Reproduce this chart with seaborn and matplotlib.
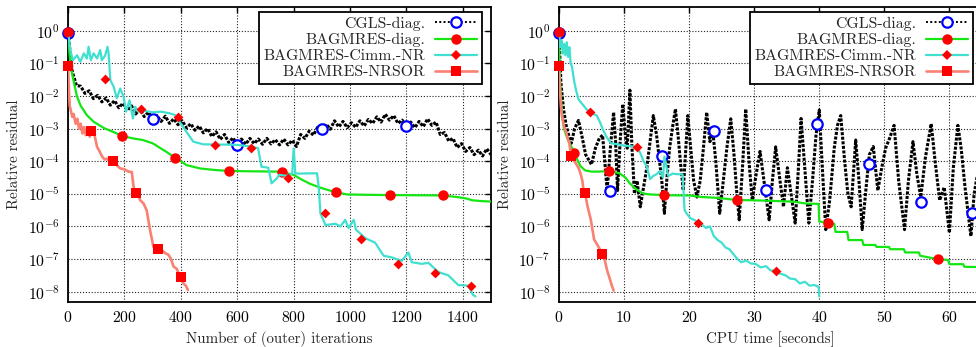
import numpy as np
import matplotlib
matplotlib.use("Agg")
import matplotlib.pyplot as plt
from matplotlib.lines import Line2D
from matplotlib.ticker import NullLocator, FixedLocator
import seaborn as sns

# ---------------- data: residual histories (log10 of relative residual) ----------------
# Left panel: residual vs. number of outer iterations
cgls_it_x = [0, 15, 30, 45, 60, 75, 90, 105, 120, 135, 150, 165, 180, 195, 210, 225, 240, 255, 270, 285,
             300, 315, 330, 345, 360, 375, 390, 405, 420, 435, 450, 465, 480, 495, 510, 525, 540, 555, 570, 585,
             600, 615, 630, 645, 660, 675, 690, 705, 720, 735, 750, 765, 780, 795, 810, 825, 840, 855, 870, 885,
             900, 915, 930, 945, 960, 975, 990, 1005, 1020, 1035, 1050, 1065, 1080, 1095, 1110, 1125, 1140, 1155,
             1170, 1185, 1200, 1215, 1230, 1245, 1260, 1275, 1290, 1305, 1320, 1335, 1350, 1365, 1380, 1395,
             1410, 1425, 1440, 1455, 1470, 1485, 1500]
cgls_it_log = [-0.06, -1.25, -1.68, -1.70, -1.92, -1.84, -2.08, -1.98, -2.18, -2.06, -2.28, -2.14, -2.36, -2.22,
               -2.44, -2.30, -2.55, -2.40, -2.63, -2.50, -2.70, -2.60, -2.78, -2.62, -2.84, -2.70, -2.88, -2.76,
               -2.98, -2.85, -3.05, -2.92, -3.13, -3.00, -3.24, -3.10, -3.33, -3.18, -3.43, -3.28, -3.50, -3.32,
               -3.48, -3.30, -3.46, -3.32, -3.48, -3.30, -3.47, -3.34, -3.50, -3.32, -3.50, -3.36, -3.55, -3.18,
               -3.30, -3.08, -3.20, -2.96, -3.08, -2.86, -3.02, -2.76, -2.95, -2.78, -2.97, -2.82, -2.96, -2.76,
               -2.92, -2.72, -2.84, -2.64, -2.80, -2.56, -2.74, -2.60, -2.84, -2.74, -2.96, -2.80, -2.97, -2.78,
               -2.94, -2.70, -2.90, -2.80, -3.18, -3.12, -3.38, -3.30, -3.58, -3.46, -3.70, -3.58, -3.80, -3.66,
               -3.84, -3.62, -3.80]
cgls_it_mx = [0, 300, 600, 900, 1200]
cgls_it_mlog = [-0.06, -2.69, -3.50, -3.02, -2.93]

diag_it_x = [0, 5, 12, 20, 32, 45, 67, 91, 129, 160, 191, 230, 265, 300, 324, 350, 379, 400, 420, 467,
             520, 571, 650, 750, 800, 832, 860, 891, 920, 950, 989, 1050, 1138, 1230, 1326, 1380, 1410, 1434,
             1460, 1500]
diag_it_log = [-0.04, -0.7, -1.2, -1.55, -2.02, -2.3, -2.59, -2.79, -2.99, -3.1, -3.22, -3.3, -3.35, -3.45,
               -3.58, -3.72, -3.89, -4.0, -4.12, -4.22, -4.27, -4.30, -4.31, -4.32, -4.42, -4.58, -4.7, -4.8,
               -4.88, -4.95, -5.02, -5.03, -5.04, -5.045, -5.05, -5.1, -5.14, -5.2, -5.22, -5.24]
diag_it_mx = [0, 190, 380, 570, 760, 950, 1140, 1330]
diag_it_mlog = [-0.04, -3.22, -3.89, -4.30, -4.34, -4.95, -5.04, -5.05]

cimm_it_x = [0, 8, 17, 32, 44, 56, 67, 73, 81, 91, 103, 114, 120, 132, 140, 144, 150, 162, 173, 185, 197,
             206, 218, 230, 238, 250, 270, 300, 330, 360, 379, 400, 420, 444, 479, 520, 560, 600, 650, 674,
             686, 710, 722, 740, 749, 778, 795, 800, 806, 815, 883, 889, 895, 913, 948, 966, 983, 995, 1013,
             1021, 1054, 1089, 1119, 1148, 1183, 1207, 1219, 1254, 1278, 1313, 1348, 1384, 1419, 1436, 1445]
cimm_it_log = [-0.03, -0.59, -0.9, -0.75, -0.95, -0.69, -0.85, -0.49, -0.9, -0.69, -0.85, -0.59, -0.9, -0.75,
               -0.49, -0.7, -1.51, -1.72, -2.07, -1.77, -2.02, -2.48, -2.13, -2.69, -2.33, -2.48, -2.45, -2.5,
               -2.48, -2.53, -2.58, -2.85, -3.1, -3.4, -3.48, -3.49, -3.49, -3.5, -3.55, -3.6, -4.17, -4.2,
               -4.68, -4.53, -4.42, -4.45, -4.38, -3.61, -4.37, -4.38, -4.37, -4.79, -5.6, -5.96, -5.92, -6.0,
               -5.8, -6.05, -5.8, -6.1, -6.36, -6.5, -6.9, -6.95, -7.06, -6.8, -7.1, -7.15, -7.12, -7.4, -7.5,
               -7.8, -7.82, -8.1, -8.15]
cimm_it_mx = [0, 130, 260, 390, 520, 650, 780, 910, 1040, 1170, 1300, 1430]
cimm_it_mlog = [-0.03, -1.48, -2.40, -2.64, -3.50, -3.58, -4.53, -5.60, -6.40, -7.16, -7.44, -7.82]

sor_it_x = [0, 3, 6, 10, 15, 20, 27, 33, 39, 45, 51, 57, 63, 70, 77, 85, 94, 103, 112, 121, 130, 138, 150,
            161, 173, 185, 200, 215, 226, 232, 238, 247, 256, 268, 279, 291, 303, 315, 324, 332, 344, 356, 365,
            374, 385, 397, 409, 418, 425]
sor_it_log = [-1.07, -1.8, -2.3, -2.45, -2.64, -2.55, -2.85, -2.7, -3.0, -2.85, -3.15, -2.95, -3.2, -3.0,
              -3.25, -3.07, -3.2, -3.56, -3.7, -3.86, -3.95, -3.92, -4.02, -4.0, -4.12, -4.22, -4.25, -4.32,
              -4.33, -4.75, -4.96, -5.0, -5.2, -5.3, -5.51, -6.12, -6.63, -6.68, -6.75, -6.72, -6.82, -6.87,
              -7.0, -7.23, -7.3, -7.52, -7.75, -7.82, -7.95]
sor_it_mx = [0, 80, 160, 240, 320, 400]
sor_it_mlog = [-1.07, -3.07, -4.0, -4.97, -6.68, -7.55]

# Right panel: residual vs. CPU time in seconds
cgls_t_x = [0, 0.3, 0.7, 1.1, 1.5, 1.9, 2.4, 3.0, 3.5, 4.1, 5.0, 5.6, 6.2, 6.7, 7.0, 7.4, 7.9, 8.4, 8.7, 9.0,
            9.4, 9.8, 10.2, 10.5, 10.9, 11.2, 11.6, 12.0, 12.5, 13.0, 13.5, 14.0, 14.5, 15.0, 15.4, 15.8, 16.2,
            16.6, 17.0, 17.5, 17.9, 18.3, 18.7, 19.1, 19.5, 19.8, 20.2, 20.7, 21.2, 21.7, 22.2, 22.7, 23.2,
            23.6, 24.1, 24.7, 25.2, 25.8, 26.4, 26.9, 27.3, 27.7, 28.2, 28.7, 29.2, 29.7, 30.3, 30.9, 31.5,
            32.3, 32.8, 33.3, 33.9, 34.5, 35.1, 35.6, 36.3, 36.8, 37.2, 37.7, 38.4, 39.0, 39.5, 40.0, 40.5,
            41.0, 41.6, 42.3, 42.8, 43.3, 43.9, 44.4, 44.9, 45.6, 46.1, 46.6, 47.2, 47.7, 48.3, 49.0, 49.6,
            50.2, 50.8, 51.5, 52.2, 53.1, 53.7, 54.4, 55.0, 55.6, 56.3, 57.2, 57.8, 58.5, 59.2, 60.0, 60.6,
            61.3, 61.8, 62.4, 63.3, 63.8, 64.4, 65.0]
cgls_t_log = [-0.06, -1.6, -2.4, -2.9, -3.2, -3.45, -3.0, -2.75, -3.2, -3.8, -4.1, -3.6, -3.3, -3.2, -3.9,
              -4.9, -3.6, -2.5, -3.4, -4.9, -3.4, -2.25, -3.2, -3.6, -1.82, -3.5, -5.0, -4.6, -5.4, -4.8,
              -4.2, -3.4, -2.6, -3.2, -3.9, -4.6, -5.6, -4.5, -3.6, -2.9, -2.4, -3.2, -4.1, -4.9, -3.6, -2.6,
              -3.5, -4.6, -5.1, -4.6, -3.6, -2.5, -3.4, -3.0, -4.0, -5.6, -4.7, -3.6, -2.7, -3.8, -4.9, -5.8,
              -4.2, -2.4, -4.0, -5.2, -4.4, -3.7, -4.6, -5.8, -4.6, -3.56, -4.5, -5.4, -4.2, -4.9, -5.9, -4.2,
              -2.69, -4.0, -5.9, -4.5, -3.2, -2.43, -4.3, -6.1, -5.2, -3.6, -2.9, -2.6, -4.0, -5.0, -5.4,
              -3.35, -4.6, -6.1, -4.8, -3.8, -3.55, -4.9, -4.2, -3.6, -3.3, -2.9, -4.6, -6.1, -4.6, -3.4,
              -4.4, -5.1, -3.9, -2.85, -4.0, -5.2, -4.8, -6.2, -4.2, -2.9, -3.6, -4.8, -6.3, -5.0, -4.3, -4.9]
cgls_t_mx = [0, 7.85, 15.9, 23.85, 31.85, 39.7, 47.7, 55.6, 63.5]
cgls_t_mlog = [-0.06, -4.92, -3.83, -3.07, -4.87, -2.85, -4.09, -5.25, -5.58]

diag_t_x = [0, 0.15, 0.35, 0.55, 0.77, 1.1, 1.5, 1.9, 2.36, 2.8, 3.3, 4.0, 5.0, 6.0, 7.75, 9.3, 10.2, 10.9,
            11.8, 12.9, 14.0, 16.1, 18.0, 20.0, 22.0, 24.0, 25.5, 27.3, 30.0, 33.0, 36.0, 38.0, 39.9, 40.0,
            41.3, 42.3, 42.5, 44.3, 44.5, 46.6, 46.8, 48.6, 48.8, 50.7, 50.9, 53.0, 53.2, 55.3, 55.5, 58.3,
            59.8, 60.0, 62.1, 62.3, 65.0]
diag_t_log = [-0.04, -1.5, -2.2, -2.7, -3.0, -3.2, -3.4, -3.55, -3.75, -3.95, -4.15, -4.28, -4.32, -4.32,
              -4.3, -4.37, -4.5, -4.68, -4.85, -4.99, -5.02, -5.04, -5.05, -5.05, -5.1, -5.12, -5.15, -5.19,
              -5.2, -5.22, -5.24, -5.3, -5.31, -5.85, -5.9, -5.92, -6.17, -6.17, -6.42, -6.42, -6.57, -6.57,
              -6.63, -6.63, -6.7, -6.7, -6.8, -6.8, -6.9, -7.01, -7.03, -7.16, -7.16, -7.24, -7.25]
diag_t_mx = [0, 2.36, 7.75, 16.1, 27.3, 41.3, 58.3]
diag_t_mlog = [-0.04, -3.75, -4.3, -5.04, -5.19, -5.9, -7.01]

cimm_t_x = [0, 0.2, 0.4, 0.6, 0.8, 1.0, 1.2, 1.4, 1.6, 1.8, 2.0, 2.3, 2.6, 3.0, 3.4, 3.8, 4.3, 4.77, 5.3,
            5.8, 6.3, 6.8, 7.3, 8.0, 9.0, 10.0, 11.0, 11.95, 12.5, 13.0, 13.5, 14.0, 14.5, 15.0, 15.5, 16.0,
            16.2, 16.8, 17.5, 18.2, 19.0, 19.3, 19.6, 20.2, 20.8, 21.4, 22.0, 22.6, 23.2, 23.8, 24.4, 25.0,
            25.6, 26.2, 26.8, 27.4, 28.0, 28.8, 29.5, 30.2, 31.0, 31.8, 32.5, 33.3, 34.0, 34.8, 35.5, 36.3,
            37.0, 37.8, 38.5, 39.2, 39.9, 40.0]
cimm_t_log = [-0.03, -0.5, -0.3, -0.7, -0.4, -0.75, -0.35, -0.8, -0.5, -1.0, -1.1, -1.5, -1.8, -2.1, -2.2,
              -2.3, -2.42, -2.5, -2.55, -2.6, -2.8, -3.05, -3.25, -3.45, -3.48, -3.52, -3.54, -3.56, -3.75,
              -4.0, -4.17, -4.55, -4.45, -4.4, -4.3, -4.5, -3.86, -4.45, -4.38, -4.4, -4.4, -5.5, -5.6, -5.75,
              -5.8, -5.89, -5.95, -6.05, -6.0, -6.3, -6.42, -6.5, -6.65, -6.7, -6.85, -7.0, -7.1, -7.05, -7.14,
              -7.15, -7.26, -7.22, -7.35, -7.37, -7.45, -7.5, -7.6, -7.62, -7.75, -7.7, -7.82, -7.8, -7.85,
              -8.15]
cimm_t_mx = [0, 4.77, 11.95, 21.4, 33.3]
cimm_t_mlog = [-0.03, -2.5, -3.56, -5.89, -7.37]

sor_t_x = [0, 0.15, 0.3, 0.45, 0.6, 0.8, 1.1, 1.35, 1.6, 1.85, 2.2, 2.6, 3.0, 3.3, 3.6, 3.8, 4.0, 4.4, 4.9,
           5.4, 6.0, 6.67, 7.0, 7.4, 7.8, 8.1, 8.4]
sor_t_log = [-1.07, -1.8, -2.3, -2.6, -2.74, -2.95, -3.1, -3.3, -3.45, -3.83, -3.95, -4.07, -4.2, -4.37,
             -4.6, -4.94, -4.97, -5.39, -5.8, -6.4, -6.6, -6.85, -7.0, -7.35, -7.6, -7.8, -7.97]
sor_t_mx = [0, 1.85, 4.0, 6.67]
sor_t_mlog = [-1.07, -3.83, -4.97, -6.85]

labels = ["CGLS-diag.", "BAGMRES-diag.", "BAGMRES-Cimm.-NR", "BAGMRES-NRSOR"]

# ---------------- styling ----------------
sns.set_theme(style="white")
plt.rcParams.update({
    "font.family": ["cmr10"],
    "mathtext.fontset": "cm",
    "axes.formatter.use_mathtext": True,
    "axes.unicode_minus": True,
    "font.size": 10.8,
})

GREEN = "#14e614"
CYAN = "#40e0d0"
SALMON = "#fa8072"
RED = "#ff0000"
BLUE = "#0000ff"
DOTTED = (0, (1.0, 0.5))

styles = [
    dict(color="black", ls=DOTTED, lw=2.2, marker="o", ms=7.5, mfc="white", mec=BLUE, mew=1.6),
    dict(color=GREEN, ls="-", lw=1.6, marker="o", ms=7.5, mfc=RED, mec=RED, mew=0),
    dict(color=CYAN, ls="-", lw=1.6, marker="D", ms=5.0, mfc=RED, mec=RED, mew=0),
    dict(color=SALMON, ls="-", lw=1.9, marker="s", ms=7.5, mfc=RED, mec=RED, mew=0),
]
legend_styles = [dict(st) for st in styles]
legend_styles[0]["ls"] = (0, (1.0, 1.2))
legend_styles[0]["lw"] = 1.4

panels = [
    dict(series=[(cgls_it_x, cgls_it_log, cgls_it_mx, cgls_it_mlog),
                 (diag_it_x, diag_it_log, diag_it_mx, diag_it_mlog),
                 (cimm_it_x, cimm_it_log, cimm_it_mx, cimm_it_mlog),
                 (sor_it_x, sor_it_log, sor_it_mx, sor_it_mlog)],
         xlim=(0, 1500), xticks=[0, 200, 400, 600, 800, 1000, 1200, 1400],
         xlabel="Number of (outer) iterations"),
    dict(series=[(cgls_t_x, cgls_t_log, cgls_t_mx, cgls_t_mlog),
                 (diag_t_x, diag_t_log, diag_t_mx, diag_t_mlog),
                 (cimm_t_x, cimm_t_log, cimm_t_mx, cimm_t_mlog),
                 (sor_t_x, sor_t_log, sor_t_mx, sor_t_mlog)],
         xlim=(0, 65), xticks=[0, 10, 20, 30, 40, 50, 60],
         xlabel="CPU time [seconds]"),
]

fig = plt.figure(figsize=(9.76, 3.47), dpi=100)
ax_pos = [[0.0697, 0.1297, 0.4334, 0.850], [0.5727, 0.1297, 0.4334, 0.850]]

for pos, panel in zip(ax_pos, panels):
    ax = fig.add_axes(pos)
    ax.set_yscale("log")
    for k, ((lx, ly, mx, my), st) in enumerate(zip(panel["series"], styles)):
        z = 3 + 2 * k
        sns.lineplot(x=np.asarray(lx, float), y=10.0 ** np.asarray(ly), ax=ax, color=st["color"],
                     linestyle=st["ls"], linewidth=st["lw"], estimator=None, sort=False,
                     legend=False, zorder=z)
        sns.scatterplot(x=np.asarray(mx, float), y=10.0 ** np.asarray(my), ax=ax, marker=st["marker"],
                        s=st["ms"] ** 2, facecolor=st["mfc"], edgecolor=st["mec"],
                        linewidth=st["mew"], legend=False, zorder=z + 1, clip_on=False)
    ax.set_xlim(*panel["xlim"])
    ax.set_ylim(10 ** -8.32, 10 ** 0.73)
    ax.xaxis.set_major_locator(FixedLocator(panel["xticks"]))
    ax.set_yticks([10.0 ** e for e in range(-8, 1)])
    ax.yaxis.set_minor_locator(NullLocator())
    ax.grid(True, which="major", color="#222222", linestyle=(0, (1, 1.6)), linewidth=0.8)
    ax.set_axisbelow(True)
    ax.tick_params(axis="both", which="major", direction="in", length=4, width=1,
                   top=True, right=True, labelsize=11.3, pad=6, colors="black")
    for sp in ax.spines.values():
        sp.set_visible(True)
        sp.set_color("black")
        sp.set_linewidth(1.3)
    ax.set_xlabel(panel["xlabel"], fontsize=10.8, labelpad=4)
    ax.set_ylabel("Relative residual", fontsize=10.8, labelpad=5)

    handles = [Line2D([], [], color=st["color"], linestyle=st["ls"], linewidth=st["lw"],
                      marker=st["marker"], markersize=st["ms"], markerfacecolor=st["mfc"],
                      markeredgecolor=st["mec"], markeredgewidth=st["mew"])
               for st in legend_styles]
    leg = ax.legend(handles, labels, loc="upper right", bbox_to_anchor=(0.979, 0.983),
                    borderaxespad=0, markerfirst=False, fancybox=False, framealpha=1,
                    edgecolor="black", fontsize=11.4, handlelength=2.7, handletextpad=0.6,
                    labelspacing=0.12, borderpad=0.3)
    leg.get_frame().set_linewidth(1.3)
    leg.set_zorder(20)

fig.savefig("out.png", dpi=100)
